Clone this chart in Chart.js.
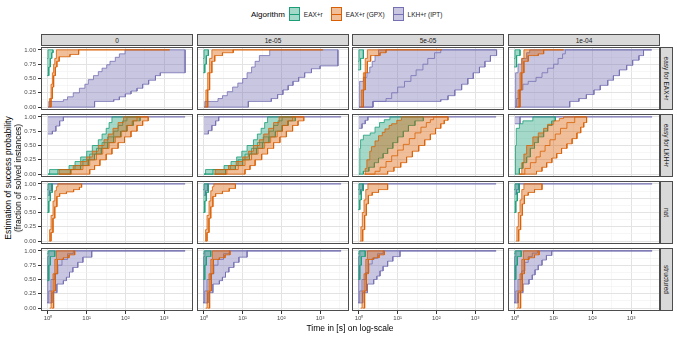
<!DOCTYPE html>
<html>
<head>
<meta charset="utf-8">
<script src="https://cdn.jsdelivr.net/npm/chart.js@4.4.1/dist/chart.umd.min.js"></script>
<style>
  body { margin: 0; background: #fff; font-family: "Liberation Sans", Arial, sans-serif; }
  #wrap { position: relative; width: 677px; height: 338px; overflow: hidden; }
  canvas { position: absolute; }
  .strip { position: absolute; box-sizing: border-box; background: #d9d9d9; border: 1px solid #4d4d4d;
           color: #1a1a1a; font-size: 6.5px; display: flex; align-items: center; justify-content: center; white-space: nowrap; }
  .strip.side span { display: inline-block; transform: rotate(90deg); }
  .lab { position: absolute; font-size: 8.5px; color: #000; white-space: nowrap; }
  #legend { position: absolute; left: 251px; top: 7px; display: flex; align-items: center; font-size: 6.5px; color: #1a1a1a; }
  #legend .ttl { font-size: 8px; color: #000; margin-right: 4px; }
  #legend .key { position: relative; width: 11px; height: 14px; box-sizing: border-box; margin-right: 4px; }
  #legend .key i { position: absolute; left: 0; right: 0; top: 6px; height: 1px; }
  #legend .txt { margin-right: 8px; }
</style>
</head>
<body>
<div id="wrap"></div>
<script>
// facets
const columns = ['0', '1e-05', '5e-05', '1e-04'];
const rows = ['easy for EAX+r', 'easy for LKH+r', 'nat', 'structured'];
const algorithms = ['EAX+r', 'EAX+r (GPX)', 'LKH+r (IPT)'];

// axes
const yTicks = [0, 0.25, 0.5, 0.75, 1];
const yLabels = ['0.00', '0.25', '0.50', '0.75', '1.00'];
const xTicks = [1, 10, 100, 1000];
const xLabels = ['10\u2070', '10\u00b9', '10\u00b2', '10\u00b3'];

// ECDF bounds per panel (row-major), [time, fraction solved]
const eaxUpper = [
  [[0.95,0.85],[1.0,1],[1.35,1]],
  [[0.95,0.85],[1.0,1],[1.3,1]],
  [[0.95,0.8],[1.0,1],[1.3,1]],
  [[0.95,0.85],[1.0,1],[1.35,1]],
  [[1.0,0],[1.1,0.08],[3.5,0.15],[5,0.22],[7,0.3],[10,0.4],[14,0.5],[20,0.6],[25,0.7],[32,0.8],[38,0.9],[45,1],[240,1]],
  [[1.0,0],[1.1,0.08],[3.3,0.15],[5,0.22],[7,0.3],[9.5,0.4],[13,0.5],[19,0.6],[24,0.7],[30,0.8],[37,0.9],[44,1],[230,1]],
  [[1.0,0],[1.05,0.45],[1.1,0.6],[1.3,0.68],[1.95,0.72],[2.6,0.82],[3.4,0.9],[4.5,0.95],[6.3,1],[46,1]],
  [[1.0,0],[1.03,0.5],[1.08,0.8],[1.3,0.88],[1.6,0.93],[2.9,1],[11,1]],
  [[0.95,0.9],[1.0,1],[1.3,1]],
  [[0.95,0.9],[1.0,1],[1.3,1]],
  [[0.95,0.9],[1.0,1],[1.3,1]],
  [[0.95,0.9],[1.0,1],[1.3,1]],
  [[0.95,0.95],[1.0,1],[1.5,1]],
  [[0.95,0.95],[1.0,1],[1.5,1]],
  [[0.95,0.95],[1.0,1],[1.45,1]],
  [[0.95,0.95],[1.0,1],[1.45,1]]
];
const eaxLower = [
  [[0.95,0.55],[1.05,0.7],[1.15,0.85],[1.25,0.95],[1.35,1]],
  [[0.95,0.6],[1.05,0.75],[1.15,0.9],[1.3,1]],
  [[0.95,0.65],[1.1,0.85],[1.3,1]],
  [[0.95,0.7],[1.1,0.9],[1.35,1]],
  [[1.0,0],[3.8,0.08],[7,0.15],[11,0.25],[16,0.35],[24,0.45],[35,0.55],[50,0.65],[75,0.75],[110,0.85],[160,0.93],[240,1]],
  [[1.0,0],[3.6,0.08],[6.5,0.15],[10,0.25],[15,0.35],[23,0.45],[33,0.55],[48,0.65],[70,0.75],[105,0.85],[150,0.93],[230,1]],
  [[1.0,0],[1.3,0.05],[1.8,0.12],[2.5,0.2],[3.2,0.28],[4.2,0.36],[5.5,0.45],[7.5,0.55],[10,0.65],[14,0.75],[19,0.85],[28,0.93],[46,1]],
  [[1.0,0],[1.3,0.1],[1.6,0.2],[2,0.3],[2.5,0.45],[3.2,0.55],[4,0.65],[5.5,0.75],[7,0.85],[9,0.93],[11,1]],
  [[0.95,0.5],[1.05,0.7],[1.15,0.85],[1.3,1]],
  [[0.95,0.5],[1.05,0.7],[1.15,0.85],[1.3,1]],
  [[0.95,0.55],[1.05,0.72],[1.15,0.88],[1.3,1]],
  [[0.95,0.5],[1.05,0.7],[1.15,0.85],[1.3,1]],
  [[0.95,0.48],[1.05,0.75],[1.15,0.9],[1.5,1]],
  [[0.95,0.5],[1.05,0.75],[1.15,0.9],[1.5,1]],
  [[0.95,0.5],[1.05,0.75],[1.15,0.9],[1.45,1]],
  [[0.95,0.5],[1.05,0.75],[1.15,0.9],[1.45,1]]
];
const eaxMid = [
  null, null, null, null,
  [[1.0,0],[1.8,0.08],[5,0.15],[8,0.25],[12,0.35],[18,0.45],[25,0.55],[35,0.65],[50,0.75],[65,0.85],[85,0.93],[110,1],[240,1]],
  [[1.0,0],[1.7,0.08],[4.8,0.15],[7.6,0.25],[11.5,0.35],[17,0.45],[24,0.55],[34,0.65],[48,0.75],[63,0.85],[82,0.93],[105,1],[230,1]],
  null, null, null, null, null, null, null, null, null, null
];

const gpxUpper = [
  [[1.05,0],[1.1,0.15],[1.2,0.4],[1.3,0.6],[1.4,0.75],[1.5,0.85],[1.65,1],[1400,1]],
  [[1.05,0],[1.12,0.3],[1.25,0.6],[1.4,0.85],[1.6,1],[1200,1]],
  [[1.08,0],[1.15,0.3],[1.3,0.6],[1.45,0.85],[1.65,1],[138,1]],
  [[1.1,0],[1.2,0.3],[1.35,0.6],[1.5,0.85],[1.7,1],[18,1]],
  [[1.9,0],[1.95,0.08],[4.5,0.15],[7,0.22],[10,0.3],[14,0.4],[20,0.5],[28,0.6],[36,0.7],[48,0.8],[65,0.9],[90,1],[390,1]],
  [[1.9,0],[1.95,0.08],[4.3,0.15],[6.8,0.22],[10,0.3],[14,0.4],[19,0.5],[27,0.6],[35,0.7],[47,0.8],[63,0.9],[88,1],[380,1]],
  [[1.4,0],[1.45,0.1],[1.6,0.25],[1.9,0.4],[2.1,0.48],[2.6,0.58],[3.2,0.67],[4,0.73],[4.7,0.79],[6,0.85],[7,0.88],[9.5,0.94],[12.5,1],[200,1]],
  [[1.3,0],[1.5,0.2],[1.7,0.35],[2,0.5],[2.9,0.65],[4,0.72],[5.5,0.8],[7,0.87],[10,0.93],[14,0.97],[18,1],[71,1]],
  [[1.05,0],[1.1,0.2],[1.2,0.45],[1.35,0.7],[1.5,0.88],[1.65,0.95],[1.8,1],[7.4,1]],
  [[1.05,0],[1.1,0.2],[1.2,0.45],[1.35,0.7],[1.5,0.88],[1.65,0.95],[1.8,1],[6.5,1]],
  [[1.05,0],[1.12,0.25],[1.22,0.5],[1.35,0.72],[1.5,0.9],[1.7,1],[5.5,1]],
  [[1.05,0],[1.12,0.25],[1.22,0.5],[1.35,0.72],[1.5,0.9],[1.7,1],[5,1]],
  [[1.1,0],[1.2,0.3],[1.35,0.6],[1.5,0.85],[1.65,1],[4.9,1]],
  [[1.1,0],[1.2,0.3],[1.35,0.6],[1.5,0.85],[1.65,1],[4.7,1]],
  [[1.1,0],[1.2,0.3],[1.35,0.6],[1.5,0.85],[1.65,1],[4.5,1]],
  [[1.1,0],[1.2,0.3],[1.35,0.6],[1.5,0.85],[1.65,1],[4.2,1]]
];
const gpxLower = [
  [[1.12,0],[1.2,0.15],[1.3,0.35],[1.4,0.55],[1.55,0.7],[1.7,0.8],[1.95,0.88],[3.7,0.92],[6.2,1],[1400,1]],
  [[1.12,0],[1.25,0.3],[1.4,0.6],[1.6,0.8],[1.9,0.9],[3,0.95],[5.7,1],[1200,1]],
  [[1.15,0],[1.3,0.3],[1.45,0.6],[1.65,0.8],[2,0.9],[3.5,0.95],[5,1],[138,1]],
  [[1.2,0],[1.35,0.3],[1.5,0.6],[1.7,0.8],[2.2,0.9],[4,0.93],[5.5,1],[18,1]],
  [[1.9,0],[12,0.08],[16,0.15],[22,0.25],[32,0.35],[45,0.45],[65,0.55],[95,0.65],[140,0.75],[200,0.85],[280,0.93],[390,1]],
  [[1.9,0],[11.5,0.08],[15.5,0.15],[21,0.25],[31,0.35],[44,0.45],[63,0.55],[92,0.65],[135,0.75],[195,0.85],[270,0.93],[380,1]],
  [[1.4,0],[5.5,0.05],[8,0.12],[12,0.2],[17,0.3],[24,0.4],[35,0.5],[50,0.6],[70,0.7],[95,0.8],[130,0.88],[160,0.94],[200,1]],
  [[1.3,0],[3.6,0.05],[5,0.12],[6.6,0.2],[9,0.28],[12,0.36],[16,0.45],[22,0.53],[30,0.62],[40,0.72],[50,0.82],[60,0.9],[71,1]],
  [[1.12,0],[1.2,0.15],[1.35,0.4],[1.5,0.6],[1.7,0.78],[2,0.83],[3,0.86],[4.6,0.9],[6.5,0.94],[7.4,1]],
  [[1.12,0],[1.2,0.15],[1.35,0.4],[1.5,0.6],[1.7,0.78],[2,0.83],[3,0.87],[4.5,0.92],[6.5,1]],
  [[1.15,0],[1.25,0.2],[1.4,0.45],[1.55,0.65],[1.75,0.8],[2.2,0.85],[3.2,0.9],[5.5,1]],
  [[1.15,0],[1.25,0.2],[1.4,0.45],[1.55,0.65],[1.75,0.8],[2.2,0.85],[3.2,0.9],[5,1]],
  [[1.25,0],[1.4,0.3],[1.55,0.6],[1.75,0.85],[2.5,0.88],[3.5,0.93],[4.9,1]],
  [[1.25,0],[1.4,0.3],[1.55,0.6],[1.75,0.85],[2.5,0.88],[3.5,0.93],[4.7,1]],
  [[1.25,0],[1.4,0.3],[1.55,0.6],[1.75,0.85],[2.4,0.88],[3.3,0.93],[4.5,1]],
  [[1.25,0],[1.4,0.3],[1.55,0.6],[1.75,0.85],[2.3,0.88],[3.2,0.93],[4.2,1]]
];
const gpxMid = [
  null, null, null, null,
  [[1.9,0],[4,0.08],[8,0.15],[12,0.25],[18,0.35],[26,0.45],[38,0.55],[55,0.65],[80,0.75],[110,0.85],[150,0.93],[200,1],[390,1]],
  [[1.9,0],[3.9,0.08],[7.7,0.15],[11.5,0.25],[17,0.35],[25,0.45],[37,0.55],[53,0.65],[78,0.75],[107,0.85],[145,0.93],[195,1],[380,1]],
  [[1.4,0],[2.6,0.05],[3.5,0.12],[5,0.22],[7,0.32],[10,0.42],[14,0.52],[20,0.62],[28,0.72],[40,0.82],[55,0.9],[70,0.95],[85,1],[200,1]],
  [[1.3,0],[1.8,0.1],[2.5,0.2],[3.5,0.3],[4.5,0.4],[6,0.5],[8,0.6],[11,0.7],[15,0.8],[22,0.9],[35,1],[71,1]],
  null, null, null, null, null, null, null, null
];

const lkhUpper = [
  [[1,0],[1.05,0.1],[2.5,0.13],[3.2,0.18],[4.5,0.25],[6.5,0.33],[9,0.4],[11,0.48],[15,0.55],[20,0.62],[25,0.68],[33,0.74],[40,0.8],[55,0.87],[70,0.93],[98,1],[3500,1]],
  [[1,0],[1.05,0.1],[2.3,0.15],[3,0.2],[4,0.27],[5.5,0.35],[7.5,0.42],[10,0.5],[13,0.6],[17,0.7],[21,0.8],[27,0.9],[50,1],[2900,1]],
  [[1,0],[1.02,0.3],[1.05,0.45],[1.3,0.52],[1.6,0.6],[1.9,0.7],[2.2,0.8],[2.6,0.9],[3.2,1],[3600,1]],
  [[1,0],[1.02,0.4],[1.05,0.6],[1.2,0.75],[1.5,0.85],[2,0.95],[2.4,1],[3400,1]],
  [[1,1],[3500,1]],
  [[1,1],[3500,1]],
  [[1,1],[3500,1]],
  [[1,1],[3500,1]],
  [[1,1],[3500,1]],
  [[1,1],[3500,1]],
  [[1,1],[3500,1]],
  [[1,1],[3500,1]],
  [[0.95,0.1],[0.97,0.5],[1.0,0.9],[1.05,1],[3500,1]],
  [[0.95,0.1],[0.97,0.5],[1.0,0.9],[1.05,1],[3500,1]],
  [[0.95,0.1],[0.97,0.5],[1.0,0.9],[1.05,1],[3500,1]],
  [[0.95,0.1],[0.97,0.5],[1.0,0.9],[1.05,1],[3500,1]]
];
const lkhLower = [
  [[1,0],[16,0.1],[50,0.13],[70,0.18],[100,0.23],[140,0.28],[200,0.33],[280,0.4],[400,0.47],[600,0.55],[800,0.6],[3500,1]],
  [[1,0],[14,0.1],[55,0.15],[80,0.22],[110,0.3],[150,0.38],[200,0.45],[280,0.52],[400,0.6],[600,0.67],[1000,0.72],[2900,1]],
  [[1,0],[2.3,0.1],[130,0.13],[200,0.2],[300,0.3],[450,0.4],[650,0.5],[900,0.6],[1300,0.7],[1800,0.8],[2500,0.9],[3600,1]],
  [[1,0],[26,0.1],[45,0.15],[70,0.22],[110,0.3],[160,0.38],[250,0.47],[350,0.55],[500,0.65],[770,0.73],[1100,0.82],[1600,0.9],[2100,1],[3400,1]],
  [[1,0.7],[1.3,0.75],[1.6,0.84],[2,0.93],[2.5,1],[3500,1]],
  [[1,0.7],[1.3,0.76],[1.6,0.85],[2,0.93],[2.4,1],[3500,1]],
  [[1,0.8],[1.2,0.88],[1.45,0.94],[1.7,1],[3500,1]],
  [[1,0.88],[1.35,1],[3500,1]],
  [[1,0.8],[1.1,0.88],[1.25,1],[3500,1]],
  [[1,0.8],[1.1,0.88],[1.25,1],[3500,1]],
  [[1,0.82],[1.1,0.9],[1.25,1],[3500,1]],
  [[1,0.82],[1.1,0.9],[1.25,1],[3500,1]],
  [[0.95,0.09],[1.27,0.27],[1.7,0.42],[2.5,0.48],[3,0.54],[3.6,0.63],[4.4,0.71],[5.9,0.8],[8,0.89],[13.5,1],[3500,1]],
  [[0.95,0.09],[1.27,0.27],[1.7,0.42],[2.5,0.48],[3,0.54],[3.6,0.63],[4.4,0.71],[5.9,0.8],[8,0.89],[13,1],[3500,1]],
  [[0.95,0.09],[1.25,0.27],[1.65,0.42],[2.4,0.5],[2.9,0.56],[3.5,0.65],[4.2,0.73],[5.5,0.82],[7.5,0.9],[11.5,1],[3500,1]],
  [[0.95,0.09],[1.2,0.27],[1.6,0.42],[2.3,0.5],[2.8,0.58],[3.3,0.67],[4,0.75],[5,0.84],[6.5,0.92],[8.9,1],[3500,1]]
];
const lkhMid = [
  null, null,
  [[1,0],[2.3,0.1],[5,0.15],[7,0.25],[10,0.35],[15,0.45],[22,0.55],[30,0.65],[45,0.75],[60,0.85],[90,0.95],[130,1],[3600,1]],
  [[1,0],[1.1,0.15],[1.3,0.3],[1.6,0.4],[2.2,0.45],[3.5,0.52],[5,0.6],[7,0.68],[10,0.75],[13,0.85],[17,0.93],[20,1],[3400,1]],
  null, null, null, null, null, null, null, null,
  [[0.95,0.1],[1.05,0.3],[1.2,0.5],[1.5,0.6],[1.8,0.75],[2.3,0.85],[3.2,0.95],[4.5,1],[3500,1]],
  [[0.95,0.1],[1.05,0.3],[1.2,0.5],[1.5,0.6],[1.8,0.75],[2.3,0.85],[3.2,0.95],[4.5,1],[3500,1]],
  [[0.95,0.1],[1.05,0.3],[1.2,0.5],[1.5,0.62],[1.8,0.77],[2.2,0.87],[3,0.95],[4.2,1],[3500,1]],
  [[0.95,0.1],[1.05,0.3],[1.2,0.5],[1.5,0.65],[1.8,0.8],[2.2,0.9],[2.8,0.96],[3.8,1],[3500,1]]
];

// layout of the facet grid (pixels)
const panelX = [41, 197, 352, 508];
const panelY = [47, 114, 181, 248];
const PW = 152, PH = 63, AXW = 28, AXH = 13;
const colors = ['#1b9e77', '#d95f02', '#7570b3'];
const fills = ['rgba(27,158,119,0.4)', 'rgba(217,95,2,0.4)', 'rgba(117,112,179,0.4)'];

const wrap = document.getElementById('wrap');

// ECDF points -> step corners
function steps(pts) {
  const out = [];
  pts.forEach((p, i) => {
    if (i > 0) out.push({x: p[0], y: pts[i - 1][1]});
    out.push({x: p[0], y: p[1]});
  });
  return out;
}

const frame = {
  id: 'frame',
  afterDraw(chart) {
    const {ctx, chartArea: a} = chart;
    ctx.save();
    ctx.strokeStyle = '#4d4d4d';
    ctx.lineWidth = 1;
    ctx.strokeRect(a.left + 0.5, a.top + 0.5, a.width - 1, a.height - 1);
    ctx.restore();
  }
};

const yGrid = [0, 0.125, 0.25, 0.375, 0.5, 0.625, 0.75, 0.875, 1];
const xGrid = [1, 3.1623, 10, 31.623, 100, 316.23, 1000, 3162.3];

// draw order: orange on top, then green, purple at the bottom
const series = [
  {up: gpxUpper, lo: gpxLower, mid: gpxMid, k: 1},
  {up: eaxUpper, lo: eaxLower, mid: eaxMid, k: 0},
  {up: lkhUpper, lo: lkhLower, mid: lkhMid, k: 2}
];

rows.forEach((rowName, r) => {
  columns.forEach((colName, c) => {
    const p = r * 4 + c;
    const left = c === 0, bottom = r === 3;
    const cv = document.createElement('canvas');
    cv.width = PW + (left ? AXW : 0);
    cv.height = PH + (bottom ? AXH : 0);
    cv.style.left = (panelX[c] - (left ? AXW : 0)) + 'px';
    cv.style.top = panelY[r] + 'px';
    wrap.appendChild(cv);

    const datasets = [];
    series.forEach(s => {
      if (s.mid[p]) {
        datasets.push({data: steps(s.mid[p]), borderColor: colors[s.k], borderWidth: 0.8, fill: false});
      }
      datasets.push({
        data: steps(s.up[p]).concat(steps(s.lo[p]).reverse()),
        borderColor: colors[s.k], backgroundColor: fills[s.k], borderWidth: 0.8, fill: 'shape'
      });
    });

    new Chart(cv, {
      type: 'line',
      data: {datasets},
      options: {
        responsive: false, animation: false, devicePixelRatio: 1,
        layout: {padding: 0},
        elements: {point: {radius: 0}, line: {tension: 0}},
        plugins: {legend: {display: false}, tooltip: {enabled: false}},
        scales: {
          x: {
            type: 'logarithmic', min: 0.66, max: 5600,
            afterBuildTicks: s => { s.ticks = xGrid.map(v => ({value: v})); },
            afterFit: s => { s.height = bottom ? AXH : 0; s.paddingLeft = 0; s.paddingRight = 0; },
            border: {display: false},
            grid: {
              color: ctx => xTicks.includes(ctx.tick.value) ? '#e3e3e3' : '#f0f0f0',
              lineWidth: ctx => xTicks.includes(ctx.tick.value) ? 1 : 0.6,
              drawTicks: bottom, tickLength: 3,
              tickColor: ctx => xTicks.includes(ctx.tick.value) ? '#333' : 'rgba(0,0,0,0)'
            },
            ticks: {
              display: bottom, autoSkip: false, maxRotation: 0, padding: 1,
              font: {size: 6, family: '"Liberation Sans", Arial, sans-serif'}, color: '#4d4d4d',
              callback: v => { const i = xTicks.indexOf(v); return i < 0 ? '' : xLabels[i]; }
            }
          },
          y: {
            min: -0.05, max: 1.05,
            afterBuildTicks: s => { s.ticks = yGrid.map(v => ({value: v})); },
            afterFit: s => { s.width = left ? AXW : 0; s.paddingTop = 0; s.paddingBottom = 0; },
            border: {display: false},
            grid: {
              color: ctx => yTicks.includes(ctx.tick.value) ? '#e3e3e3' : '#f0f0f0',
              lineWidth: ctx => yTicks.includes(ctx.tick.value) ? 1 : 0.6,
              drawTicks: left, tickLength: 3,
              tickColor: ctx => yTicks.includes(ctx.tick.value) ? '#333' : 'rgba(0,0,0,0)'
            },
            ticks: {
              display: left, autoSkip: false, padding: 2,
              font: {size: 6, family: '"Liberation Sans", Arial, sans-serif'}, color: '#4d4d4d',
              callback: v => { const i = yTicks.indexOf(v); return i < 0 ? '' : yLabels[i]; }
            }
          }
        }
      },
      plugins: [frame]
    });
  });
});

// facet strips
columns.forEach((name, c) => {
  const d = document.createElement('div');
  d.className = 'strip';
  Object.assign(d.style, {left: panelX[c] + 'px', top: '34px', width: PW + 'px', height: '12px'});
  d.textContent = name;
  wrap.appendChild(d);
});
rows.forEach((name, r) => {
  const d = document.createElement('div');
  d.className = 'strip side';
  Object.assign(d.style, {left: '660px', top: panelY[r] + 'px', width: '13px', height: PH + 'px'});
  const s = document.createElement('span');
  s.textContent = name;
  d.appendChild(s);
  wrap.appendChild(d);
});

// axis titles
function label(text, x, y, rot) {
  const d = document.createElement('div');
  d.className = 'lab';
  d.textContent = text;
  d.style.left = x + 'px';
  d.style.top = y + 'px';
  d.style.transform = 'translate(-50%,-50%)' + (rot ? ' rotate(-90deg)' : '');
  wrap.appendChild(d);
}
label('Estimation of success probability', 8, 178, true);
label('(fraction of solved instances)', 18, 178, true);
label('Time in [s] on log-scale', 350, 328, false);

// legend
const lg = document.createElement('div');
lg.id = 'legend';
lg.innerHTML = '<span class="ttl">Algorithm</span>';
algorithms.forEach((name, k) => {
  const key = document.createElement('span');
  key.className = 'key';
  key.style.background = fills[k];
  key.style.border = '1px solid ' + colors[k];
  key.innerHTML = '<i style="background:' + colors[k] + '"></i>';
  const t = document.createElement('span');
  t.className = 'txt';
  t.textContent = name;
  lg.appendChild(key);
  lg.appendChild(t);
});
wrap.appendChild(lg);
</script>
</body>
</html>
